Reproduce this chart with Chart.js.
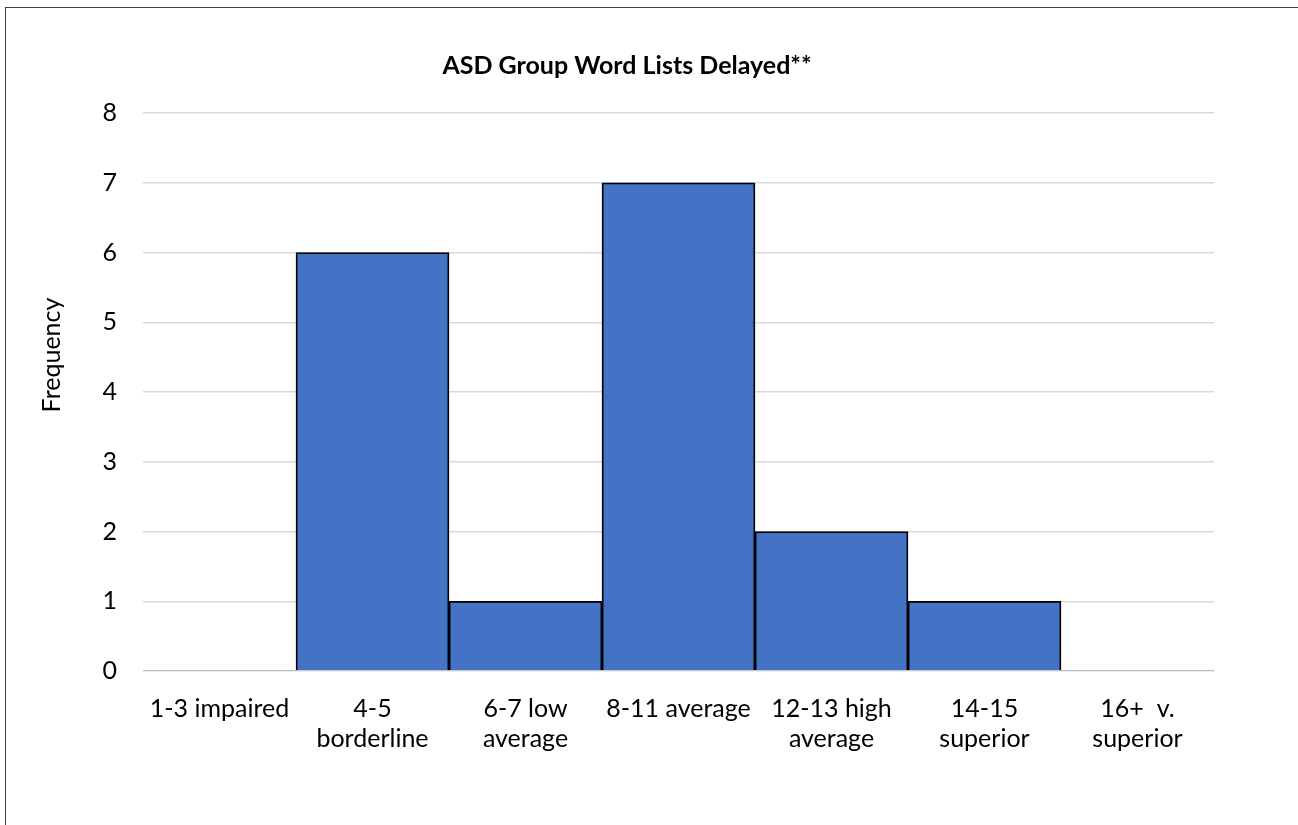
<!DOCTYPE html>
<html>
<head>
    <title>ASD Group Word Lists Delayed</title>
    <script src="https://cdn.jsdelivr.net/npm/chart.js@4.4.1/dist/chart.umd.min.js"></script>
    <style>
        html, body {
            margin: 0;
            padding: 0;
            background: white;
            overflow: hidden;
        }
        .frame {
            position: absolute;
            left: 5px;
            top: 7px;
            width: 1400px;
            height: 1000px;
            border: 1.5px solid #404040;
        }
        .wrap {
            position: absolute;
            left: 0;
            top: 0;
            width: 1298px;
            height: 825px;
        }
    </style>
</head>
<body>
    <div class="frame"></div>
    <div class="wrap">
        <canvas id="chart" width="1298" height="825"></canvas>
    </div>

    <script>
        // Data
        const categories = [
            ['1-3 impaired'],
            ['4-5', 'borderline'],
            ['6-7 low', 'average'],
            ['8-11 average'],
            ['12-13 high', 'average'],
            ['14-15', 'superior'],
            ['16+  v.', 'superior']
        ];
        const frequency = [0, 6, 1, 7, 2, 1, 0];
        const yTicks = [0, 1, 2, 3, 4, 5, 6, 7, 8];
        const yAxisTitle = 'Frequency';

        const fontFamily = 'Lato, "Open Sans", sans-serif';

        // Excel places the axis title a bit above the plot centre, so draw it by hand
        const yTitlePlugin = {
            id: 'yTitle',
            afterDraw(chart) {
                const ctx = chart.ctx;
                ctx.save();
                ctx.translate(52, 355);
                ctx.rotate(-Math.PI / 2);
                ctx.font = '25px ' + fontFamily;
                ctx.fillStyle = '#000000';
                ctx.textAlign = 'center';
                ctx.textBaseline = 'middle';
                ctx.fillText(yAxisTitle, 0, 0);
                ctx.restore();
            }
        };

        new Chart(document.getElementById('chart'), {
            type: 'bar',
            data: {
                labels: categories,
                datasets: [{
                    label: yAxisTitle,
                    data: frequency,
                    backgroundColor: '#4472C4',
                    borderColor: '#000000',
                    borderWidth: (ctx) => ctx.raw === 0 ? 0 : 1.8,
                    borderSkipped: 'bottom',
                    barPercentage: 1.0,
                    categoryPercentage: 1.0
                }]
            },
            options: {
                responsive: false,
                animation: false,
                layout: {
                    // left padding only serves to centre the title like the original
                    padding: { left: 40, right: 84, top: 0, bottom: 0 }
                },
                plugins: {
                    legend: { display: false },
                    tooltip: { enabled: false },
                    title: {
                        display: true,
                        text: 'ASD Group Word Lists Delayed**',
                        color: '#000000',
                        font: { family: fontFamily, size: 25, weight: 'bold' },
                        padding: { top: 51, bottom: 32 }
                    }
                },
                scales: {
                    x: {
                        grid: { display: false },
                        border: { display: false },
                        ticks: {
                            color: '#000000',
                            font: { family: fontFamily, size: 25, lineHeight: 1.2 },
                            padding: 15,
                            maxRotation: 0,
                            autoSkip: false
                        },
                        afterFit: (scale) => { scale.height = 154; }
                    },
                    y: {
                        min: 0,
                        max: 8,
                        afterBuildTicks: (scale) => {
                            scale.ticks = yTicks.map(v => ({ value: v }));
                        },
                        grid: {
                            color: '#d9d9d9',
                            lineWidth: 1.5,
                            drawTicks: false
                        },
                        border: { display: false },
                        ticks: {
                            color: '#000000',
                            font: { family: fontFamily, size: 25 },
                            padding: 26
                        },
                        afterFit: (scale) => { scale.width = 103; }
                    }
                }
            },
            plugins: [yTitlePlugin]
        });
    </script>
</body>
</html>
